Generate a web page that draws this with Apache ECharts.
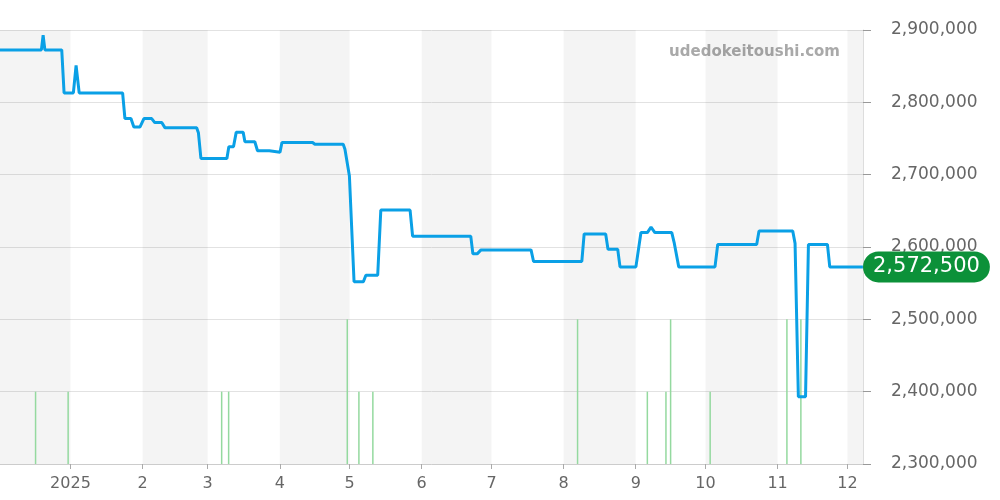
<!DOCTYPE html>
<html>
<head>
<meta charset="utf-8">
<script src="https://cdn.jsdelivr.net/npm/echarts@6/dist/echarts.min.js"></script>
<style>
html,body{margin:0;padding:0;background:#fff;}
#chart{width:1000px;height:500px;}
</style>
</head>
<body>
<div id="chart"></div>
<script>
// ---- data ----
var priceDates = [
  '2024-11-30', '2024-12-19 12:00', '2024-12-20 06:00', '2024-12-21', '2024-12-28 06:00', '2024-12-29 06:00',
  '2025-01-02 06:00', '2025-01-03 10:00', '2025-01-04 18:00', '2025-01-23 10:00', '2025-01-24 10:00',
  '2025-01-27', '2025-01-28 06:00', '2025-01-30 22:00', '2025-02-01 14:00', '2025-02-04 22:00',
  '2025-02-06 06:00', '2025-02-09 06:00', '2025-02-10 14:00', '2025-02-24 06:00', '2025-02-25',
  '2025-02-26 02:00', '2025-03-09 06:00', '2025-03-10 02:00', '2025-03-12 02:00', '2025-03-13 06:00',
  '2025-03-16 06:00', '2025-03-17', '2025-03-21 06:00', '2025-03-22 10:00', '2025-03-27 12:00',
  '2025-03-28 06:00', '2025-04-01 02:00', '2025-04-01 22:00', '2025-04-15 02:00', '2025-04-16 02:00',
  '2025-04-28 06:00', '2025-04-29', '2025-04-30 22:00', '2025-05-01 12:00', '2025-05-02 22:00',
  '2025-05-06 22:00', '2025-05-08', '2025-05-13 02:00', '2025-05-14 10:00', '2025-05-27',
  '2025-05-28 02:00', '2025-06-22 02:00', '2025-06-23', '2025-06-24 20:00', '2025-06-26 12:00',
  '2025-07-18', '2025-07-19 02:00', '2025-08-08 20:00', '2025-08-09 20:00', '2025-08-19 02:00',
  '2025-08-20 02:00', '2025-08-24 06:00', '2025-08-25 06:00', '2025-09-01 02:00', '2025-09-03 06:00',
  '2025-09-06', '2025-09-07 14:00', '2025-09-09 06:00', '2025-09-16 12:00', '2025-09-17 12:00',
  '2025-09-18 06:00', '2025-09-19 12:00', '2025-10-05 02:00', '2025-10-06 06:00', '2025-10-23',
  '2025-10-24', '2025-11-07 12:00', '2025-11-08 12:00', '2025-11-09 06:00', '2025-11-09 22:00',
  '2025-11-13', '2025-11-14 06:00', '2025-11-22 10:00', '2025-11-23 10:00', '2025-12-07 16:00'
];
var priceValues = [
  2872500, 2872500, 2893000, 2872500, 2872500, 2813000,
  2813000, 2851000, 2813000, 2813000, 2777500,
  2777500, 2766000, 2766000, 2777500, 2777500,
  2772000, 2772000, 2765000, 2765000, 2758000,
  2722500, 2722500, 2738500, 2738500, 2758500,
  2758500, 2745500, 2745500, 2733000, 2733000,
  2731000, 2731000, 2744500, 2744500, 2742000,
  2742000, 2735000, 2698000, 2698000, 2552000,
  2552000, 2561000, 2561000, 2651000, 2651000,
  2615000, 2615000, 2590500, 2590500, 2596000,
  2596000, 2580000, 2580000, 2618000, 2618000,
  2597000, 2597000, 2572500, 2572500, 2620000,
  2620000, 2627500, 2620000, 2620000, 2606500,
  2606500, 2572500, 2572500, 2603500, 2603500,
  2622000, 2622000, 2605000, 2605000, 2393000,
  2393000, 2603500, 2603500, 2572500, 2572500
];
var volumeDates = ['2024-12-17', '2024-12-31', '2025-03-07', '2025-03-10', '2025-04-30', '2025-05-05',
  '2025-05-11', '2025-08-07', '2025-09-06', '2025-09-14', '2025-09-16', '2025-10-03', '2025-11-05', '2025-11-11'];
var volumeValues = [1, 1, 1, 1, 2, 1, 1, 2, 1, 1, 2, 1, 2, 2];
var monthTicks = ['2025-01-01', '2025-02-01', '2025-03-01', '2025-04-01', '2025-05-01', '2025-06-01',
  '2025-07-01', '2025-08-01', '2025-09-01', '2025-10-01', '2025-11-01', '2025-12-01'];
var shadedMonths = [['2024-12-01', '2025-01-01'], ['2025-02-01', '2025-03-01'], ['2025-04-01', '2025-05-01'],
  ['2025-06-01', '2025-07-01'], ['2025-08-01', '2025-09-01'], ['2025-10-01', '2025-11-01'], ['2025-12-01', '2026-01-01']];
var yTicks = [2300000, 2400000, 2500000, 2600000, 2700000, 2800000, 2900000];
var xMin = '2024-12-01 17:00';
var xMax = '2025-12-07 17:00';
var watermark = 'udedokeitoushi.com';

// ---- build ----
function ts(s) {
  var m = s.match(/^(\d+)-(\d+)-(\d+)(?:\s+(\d+):(\d+))?$/);
  return new Date(+m[1], +m[2] - 1, +m[3], m[4] ? +m[4] : 0, m[5] ? +m[5] : 0).getTime();
}
var priceData = priceDates.map(function (d, i) { return [ts(d), priceValues[i]]; });
var volumeData = volumeDates.map(function (d, i) { return [ts(d), volumeValues[i]]; });
var tickTs = monthTicks.map(ts);
var minTs = ts(xMin), maxTs = ts(xMax);
var areas = shadedMonths.map(function (p) {
  return [{ xAxis: Math.max(ts(p[0]), minTs) }, { xAxis: Math.min(ts(p[1]), maxTs) }];
});
var lastValue = priceValues[priceValues.length - 1];

var chart = echarts.init(document.getElementById('chart'), null, { renderer: 'canvas' });
chart.setOption({
  animation: false,
  textStyle: { fontFamily: 'DejaVu Sans' },
  grid: { left: 0, right: 137, top: 30, bottom: 36, containLabel: false },
  graphic: [{
    type: 'text', right: 160, top: 45,
    style: { text: watermark, fill: '#a9a9a9', font: 'bold 15px "DejaVu Sans"' }
  }],
  xAxis: {
    type: 'value', min: minTs, max: maxTs,
    axisLine: { show: true, lineStyle: { color: '#cccccc', width: 1 } },
    axisTick: { show: true, customValues: tickTs, length: 5, lineStyle: { color: '#aaaaaa' } },
    axisLabel: {
      customValues: tickTs, color: '#666', fontSize: 16, margin: 12,
      formatter: function (v) {
        var d = new Date(v);
        return d.getMonth() === 0 ? String(d.getFullYear()) : String(d.getMonth() + 1);
      }
    },
    splitLine: { show: false }
  },
  yAxis: [{
    type: 'value', position: 'right', min: yTicks[0], max: yTicks[yTicks.length - 1], interval: 100000,
    axisLine: { show: true, lineStyle: { color: '#dddddd' } },
    axisTick: { show: true, length: 8, lineStyle: { color: '#999999' } },
    axisLabel: {
      color: '#666', fontSize: 17, margin: 28,
      formatter: function (v) { return v.toLocaleString('en-US'); }
    },
    splitLine: { show: true, lineStyle: { color: '#e2e2e2', width: 1 } }
  }, {
    type: 'value', min: 0, max: 6, show: false, splitLine: { show: false }
  }],
  series: [{
    type: 'line', name: 'bands', data: [], z: -1,
    markArea: { silent: true, itemStyle: { color: 'rgba(0,0,0,0.043)' }, data: areas }
  }, {
    type: 'bar', yAxisIndex: 1, data: volumeData, barWidth: 1.5,
    itemStyle: { color: '#94d99f' }, z: 1
  }, {
    type: 'line', data: priceData, showSymbol: false, symbol: 'none',
    lineStyle: { color: '#0aa0e6', width: 3 }, z: 3,
    markLine: {
      silent: true, symbol: ['none', 'none'], z: 10,
      lineStyle: { color: 'rgba(0,0,0,0)', width: 1, type: 'solid' },
      data: [{ yAxis: lastValue }],
      label: {
        show: true, position: 'end', distance: 0,
        formatter: function () { return lastValue.toLocaleString('en-US'); },
        color: '#ffffff', fontSize: 21, lineHeight: 23,
        backgroundColor: '#0c9139', borderRadius: 16, padding: [4, 10]
      }
    }
  }]
});
</script>
</body>
</html>
